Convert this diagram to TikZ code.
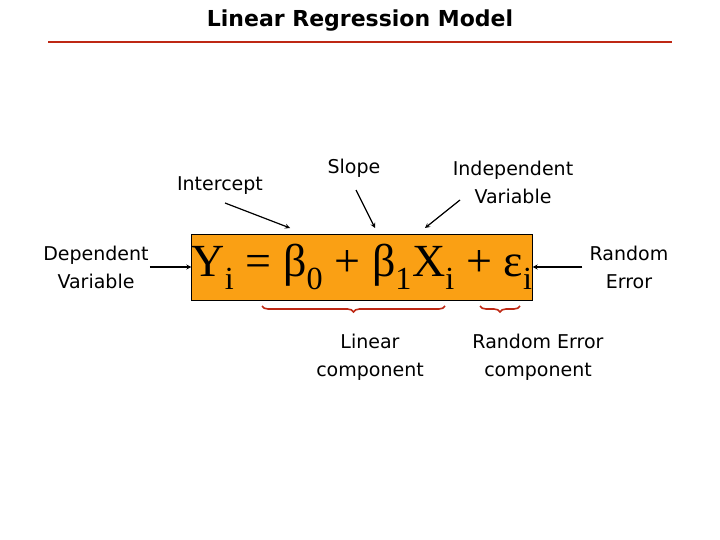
\documentclass[tikz,border=0pt]{standalone}
\usepackage{fontspec}
\setmainfont{DejaVu Sans}
\newfontfamily\eqfont{Liberation Serif}
\usetikzlibrary{decorations.pathreplacing}
\definecolor{boxorange}{RGB}{250,160,20}
\definecolor{brred}{RGB}{190,40,20}
\begin{document}
\begin{tikzpicture}[
	x=1pt,y=-1pt,
	font=\fontsize{19}{28}\selectfont,
	lbl/.style={align=center,inner sep=1pt},
	ptr/.style={->,>=stealth,line width=1.2pt},
	brc/.style={decorate,decoration={brace,mirror,amplitude=6pt},brred,line width=1.6pt},
	]
\useasboundingbox (0,0) rectangle (720,540);
\node (title) at (360,21) {\fontsize{22}{24}\selectfont\bfseries Linear Regression Model};
\draw [brred,line width=2.5pt] (48,42) -- (672,42);
% equation box
\node (eq) [draw,fill=boxorange,minimum width=332,minimum height=66,inner sep=0pt] at (362,267)
	{\eqfont\fontsize{46}{48}\selectfont Y\textsubscript{i} = β\textsubscript{0} + β\textsubscript{1}X\textsubscript{i} + ε\textsubscript{i}};
% labels
\node (icpt) [lbl] at (220,186) {Intercept};
\node (slope) [lbl] at (354,168) {Slope};
\node (indep) [lbl] at (513,182) {Independent\\Variable};
\node (dep) [lbl] at (96,267) {Dependent\\Variable};
\node (rerr) [lbl] at (629,267) {Random\\Error};
\node (lin) [lbl] at (370,357) {Linear\\component};
\node (rcomp) [lbl] at (538,357) {Random Error\\component};
% pointers
\coordinate (icptstart) at (225,203);
\coordinate (icptend) at (290,228);
\coordinate (slopestart) at (356,190);
\coordinate (slopeend) at (375,228);
\coordinate (indepstart) at (460,200);
\coordinate (independ) at (425,228);
\draw [ptr] (icptstart) -- (icptend);
\draw [ptr] (slopestart) -- (slopeend);
\draw [ptr] (indepstart) -- (independ);
\draw [ptr] (dep.east) -- (eq.west);
\draw [ptr] (rerr.west) ++(-6,0) -- (eq.east);
% braces
\draw [brc] (262,306) -- (445,306);
\draw [brc] (480,306) -- (520,306);
\end{tikzpicture}
\end{document}
